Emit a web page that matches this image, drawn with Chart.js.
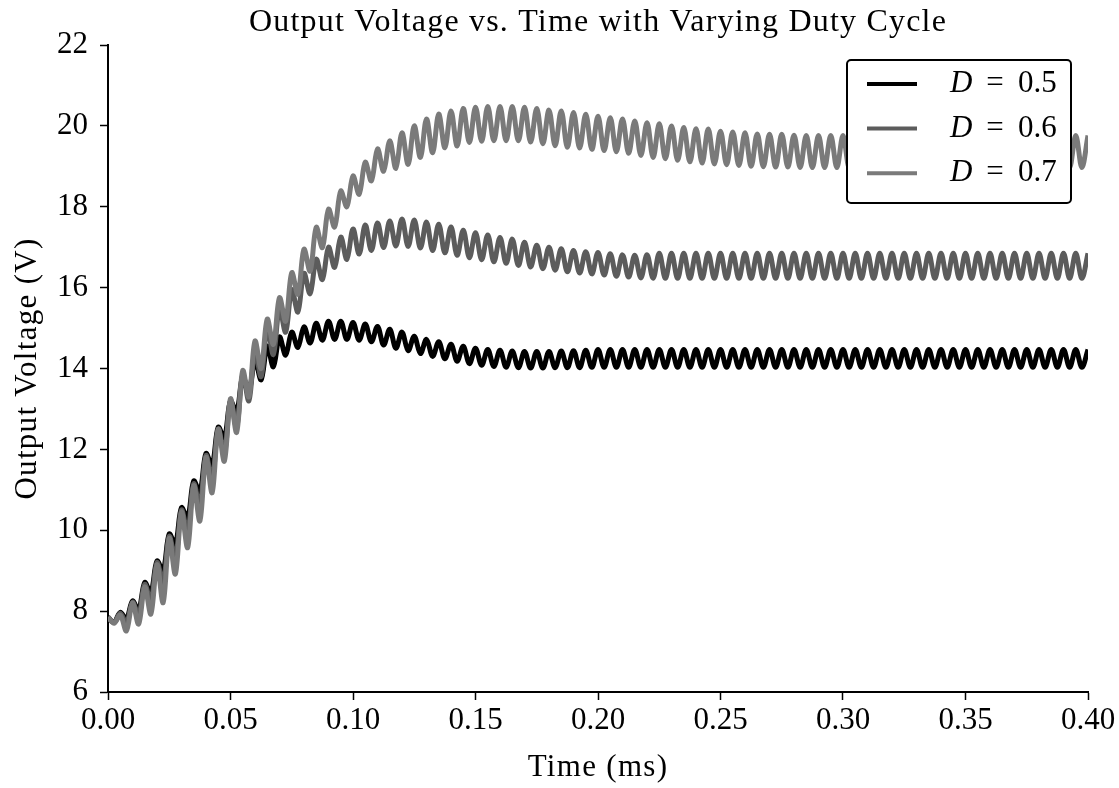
<!DOCTYPE html>
<html>
<head>
<meta charset="utf-8">
<script src="https://cdn.jsdelivr.net/npm/chart.js@4.4.0/dist/chart.umd.min.js"></script>
<style>
    body { margin: 0; background: #fff; }
    canvas { display: block; }
</style>
</head>
<body>
<canvas id="grafico" width="1119" height="788"></canvas>
<script>

// =========================
// DADOS
// =========================

// one sample every half switching period (ms)
const passo = 0.0025;

const xTicks = [0, 0.05, 0.10, 0.15, 0.20, 0.25, 0.30, 0.35, 0.40];
const yTicks = [6, 8, 10, 12, 14, 16, 18, 20, 22];

const labels = ['0.5', '0.6', '0.7'];
const cores = ['#000000', '#5c5c5c', '#7a7a7a'];

const d05 = [
    7.85, 7.72, 7.97, 7.80, 8.25, 8.02, 8.71, 8.45, 9.24, 9.00,
    9.91, 9.65, 10.56, 10.30, 11.22, 10.95, 11.90, 11.60, 12.55, 12.28,
    13.20, 12.92, 13.80, 13.45, 14.20, 13.72, 14.55, 14.04, 14.78, 14.33,
    14.90, 14.52, 15.03, 14.63, 15.12, 14.70, 15.17, 14.72, 15.17, 14.72,
    15.14, 14.70, 15.10, 14.66, 15.04, 14.58, 14.97, 14.50, 14.90, 14.44,
    14.80, 14.37, 14.72, 14.30, 14.66, 14.24, 14.60, 14.18, 14.55, 14.12,
    14.50, 14.08, 14.47, 14.05, 14.45, 14.03, 14.43, 14.02, 14.42, 14.01,
    14.42, 14.01, 14.42, 14.02, 14.43, 14.02, 14.44, 14.02, 14.45, 14.03,
    14.47, 14.03, 14.47, 14.03, 14.47, 14.03, 14.47, 14.03, 14.47, 14.03,
    14.47, 14.03, 14.47, 14.03, 14.47, 14.03, 14.47, 14.03, 14.47, 14.03,
    14.47, 14.03, 14.47, 14.03, 14.47, 14.03, 14.47, 14.03, 14.47, 14.03,
    14.47, 14.03, 14.47, 14.03, 14.47, 14.03, 14.47, 14.03, 14.47, 14.03,
    14.47, 14.03, 14.47, 14.03, 14.47, 14.03, 14.47, 14.03, 14.47, 14.03,
    14.47, 14.03, 14.47, 14.03, 14.47, 14.03, 14.47, 14.03, 14.47, 14.03,
    14.47, 14.03, 14.47, 14.03, 14.47, 14.03, 14.47, 14.03, 14.47, 14.03,
    14.47, 14.03, 14.47, 14.03, 14.47, 14.03, 14.47, 14.03, 14.47, 14.03,
    14.47
];

const d06 = [
    7.85, 7.72, 7.95, 7.70, 8.22, 7.90, 8.66, 8.25, 9.20, 8.70,
    9.85, 9.30, 10.50, 9.95, 11.15, 10.60, 11.85, 11.25, 12.50, 11.90,
    13.20, 12.55, 13.85, 13.20, 14.45, 13.80, 15.00, 14.35, 15.50, 14.90,
    15.95, 15.40, 16.35, 15.85, 16.70, 16.20, 17.00, 16.50, 17.25, 16.70,
    17.45, 16.83, 17.55, 16.92, 17.60, 16.99, 17.65, 17.03, 17.70, 17.02,
    17.67, 16.98, 17.62, 16.92, 17.57, 16.86, 17.50, 16.80, 17.42, 16.74,
    17.36, 16.69, 17.30, 16.64, 17.24, 16.60, 17.20, 16.55, 17.12, 16.51,
    17.05, 16.47, 17.00, 16.43, 16.96, 16.39, 16.92, 16.36, 16.89, 16.34,
    16.87, 16.31, 16.84, 16.28, 16.81, 16.26, 16.80, 16.24, 16.81, 16.23,
    16.85, 16.23, 16.85, 16.23, 16.85, 16.23, 16.85, 16.23, 16.85, 16.23,
    16.85, 16.23, 16.85, 16.23, 16.85, 16.23, 16.85, 16.23, 16.85, 16.23,
    16.85, 16.23, 16.85, 16.23, 16.85, 16.23, 16.85, 16.23, 16.85, 16.23,
    16.85, 16.23, 16.85, 16.23, 16.85, 16.23, 16.85, 16.23, 16.85, 16.23,
    16.85, 16.23, 16.85, 16.23, 16.85, 16.23, 16.85, 16.23, 16.85, 16.23,
    16.85, 16.23, 16.85, 16.23, 16.85, 16.23, 16.85, 16.23, 16.85, 16.23,
    16.85, 16.23, 16.85, 16.23, 16.85, 16.23, 16.85, 16.23, 16.85, 16.23,
    16.85
];

const d07 = [
    7.85, 7.70, 7.90, 7.51, 8.20, 7.68, 8.60, 7.93, 9.15, 8.21,
    9.80, 8.92, 10.45, 9.57, 11.10, 10.23, 11.80, 10.93, 12.50, 11.71,
    13.25, 12.42, 13.95, 13.30, 14.68, 14.00, 15.22, 14.60, 15.75, 15.17,
    16.37, 15.84, 16.95, 16.41, 17.49, 16.99, 17.94, 17.50, 18.39, 18.00,
    18.76, 18.31, 19.10, 18.64, 19.43, 18.88, 19.63, 18.95, 19.83, 19.05,
    20.00, 19.22, 20.17, 19.34, 20.29, 19.46, 20.37, 19.50, 20.43, 19.59,
    20.46, 19.62, 20.48, 19.63, 20.48, 19.63, 20.48, 19.63, 20.46, 19.60,
    20.43, 19.56, 20.39, 19.51, 20.37, 19.47, 20.33, 19.45, 20.29, 19.42,
    20.24, 19.39, 20.20, 19.36, 20.17, 19.32, 20.12, 19.27, 20.08, 19.22,
    20.05, 19.19, 20.00, 19.15, 19.96, 19.11, 19.93, 19.08, 19.92, 19.06,
    19.87, 19.04, 19.85, 19.02, 19.83, 19.00, 19.80, 18.99, 19.79, 18.98,
    19.79, 18.98, 19.77, 18.97, 19.76, 18.97, 19.76, 18.97, 19.76, 18.97,
    19.76, 18.97, 19.76, 18.97, 19.76, 18.97, 19.76, 18.97, 19.76, 18.97,
    19.76, 18.97, 19.76, 18.97, 19.76, 18.97, 19.76, 18.97, 19.76, 18.97,
    19.76, 18.97, 19.76, 18.97, 19.76, 18.97, 19.76, 18.97, 19.76, 18.97,
    19.76, 18.97, 19.76, 18.97, 19.76, 18.97, 19.76, 18.97, 19.76, 18.97,
    19.76
];

const fonte = "'Liberation Serif', 'DejaVu Serif', serif";

function pontos(valores) {
    return valores.map((v, i) => ({ x: i * passo, y: v }));
}

// =========================
// TITULOS E LEGENDA
// =========================

function texto(ctx, str, x, y, tam, esp, ang) {
    ctx.save();
    ctx.translate(x, y);
    ctx.rotate(ang || 0);
    ctx.font = tam + 'px ' + fonte;
    ctx.letterSpacing = esp + 'px';
    ctx.fillStyle = '#000';
    ctx.textAlign = 'center';
    ctx.textBaseline = 'middle';
    ctx.fillText(str, 0, 0);
    ctx.restore();
}

const extras = {
    id: 'extras',
    afterDatasetsDraw(chart) {
        const ctx = chart.ctx;
        const area = chart.chartArea;
        const meio = (area.left + area.right) / 2;

        texto(ctx, 'Output Voltage vs. Time with Varying Duty Cycle', meio, 23, 32, 1.2);
        texto(ctx, 'Time (ms)', meio, 768, 31, 1.3);
        texto(ctx, 'Output Voltage (V)', 28, (area.top + area.bottom) / 2, 31, 1.3, -Math.PI / 2);

        // legend box
        const bx = area.right - 241;
        const by = area.top + 15;
        const bw = 224;
        const bh = 143;

        ctx.save();
        ctx.beginPath();
        ctx.roundRect(bx, by, bw, bh, 4);
        ctx.fillStyle = '#fff';
        ctx.fill();
        ctx.lineWidth = 2;
        ctx.strokeStyle = '#000';
        ctx.stroke();

        labels.forEach((lab, i) => {
            const y = by + 24 + i * 44.6;

            ctx.beginPath();
            ctx.moveTo(bx + 20, y);
            ctx.lineTo(bx + 70, y);
            ctx.lineWidth = 4;
            ctx.strokeStyle = cores[i];
            ctx.stroke();

            ctx.fillStyle = '#000';
            ctx.textBaseline = 'middle';
            ctx.textAlign = 'left';
            ctx.font = 'italic 31px ' + fonte;
            ctx.fillText('D', bx + 103, y);
            ctx.font = '31px ' + fonte;
            ctx.textAlign = 'center';
            ctx.fillText('=', bx + 148, y);
            ctx.textAlign = 'left';
            ctx.fillText(lab, bx + 171, y);
        });

        ctx.restore();
    }
};

// =========================
// GRAFICO
// =========================

const eixo = {
    color: '#000',
    font: { family: fonte, size: 31 }
};

new Chart(
    document.getElementById('grafico'),
    {
        type: 'line',
        data: {
            datasets: [d05, d06, d07].map((serie, i) => ({
                label: 'D = ' + labels[i],
                data: pontos(serie),
                borderColor: cores[i],
                borderWidth: 5,
                tension: 0.35,
                pointRadius: 0,
                borderJoinStyle: 'round',
                order: 3 - i
            }))
        },
        options: {
            responsive: false,
            animation: false,
            devicePixelRatio: 1,
            layout: {
                padding: { top: 45, right: 31, left: 0, bottom: 0 }
            },
            plugins: {
                legend: { display: false },
                tooltip: { enabled: false },
                title: { display: false }
            },
            scales: {
                x: {
                    type: 'linear',
                    min: 0,
                    max: 0.4,
                    afterBuildTicks: s => { s.ticks = xTicks.map(v => ({ value: v })); },
                    afterFit: s => { s.height = 96; },
                    ticks: {
                        ...eixo,
                        padding: 2,
                        maxRotation: 0,
                        callback: v => v.toFixed(2)
                    },
                    grid: {
                        drawOnChartArea: false,
                        tickLength: 8,
                        tickColor: '#000',
                        tickWidth: 1.5
                    },
                    border: { color: '#000', width: 2 }
                },
                y: {
                    min: 6,
                    max: 22,
                    afterBuildTicks: s => { s.ticks = yTicks.map(v => ({ value: v })); },
                    afterFit: s => { s.width = 108; },
                    ticks: {
                        ...eixo,
                        padding: 12
                    },
                    grid: {
                        drawOnChartArea: false,
                        tickLength: 8,
                        tickColor: '#000',
                        tickWidth: 1.5
                    },
                    border: { color: '#000', width: 2 }
                }
            }
        },
        plugins: [extras]
    }
);
</script>
</body>
</html>
